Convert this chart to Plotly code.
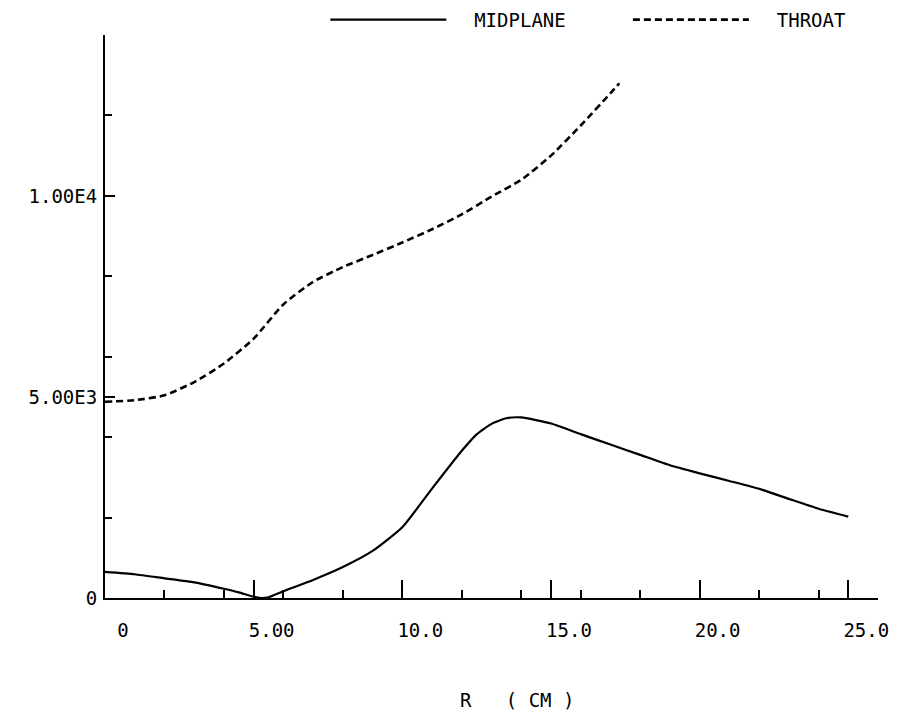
import plotly.graph_objects as go

# Radius (cm) and profile values along the two planes
r_throat = [0, 1, 2, 3, 4, 5, 6, 7, 8, 9, 10, 11, 12, 13, 14, 15, 16, 17, 17.3]
v_throat = [4880, 4920, 5040, 5370, 5830, 6450, 7300, 7860, 8230, 8530, 8840,
            9170, 9540, 9980, 10400, 11000, 11750, 12550, 12800]

r_mid = [0, 1, 2, 3, 4, 4.5, 5, 5.25, 5.5, 6, 7, 8, 9, 10, 11, 12, 12.5, 13,
         13.5, 14, 15, 16, 17, 18, 19, 20, 21, 22, 23, 24, 25]
v_mid = [650, 590, 490, 390, 230, 140, 30, 0, 20, 170, 450, 770, 1170, 1760,
         2720, 3660, 4070, 4330, 4470, 4490, 4340, 4075, 3815, 3560, 3300,
         3100, 2910, 2715, 2465, 2220, 2025]

x_major = [0, 5, 10, 15, 20, 25]
x_labels = ["0", "5.00", "10.0", "15.0", "20.0", "25.0"]
y_major = [0, 5000, 10000]
y_labels = ["0", "5.00E3", "1.00E4"]

FONT = "DejaVu Sans Mono"
FS = 19
NB = "\u00a0"

fig = go.Figure()
fig.add_trace(go.Scatter(x=r_mid, y=v_mid, mode="lines", name=NB * 2 + "MIDPLANE" + NB * 5,
                         line=dict(color="black", width=2.2, shape="spline", smoothing=0.5)))
fig.add_trace(go.Scatter(x=r_throat, y=v_throat, mode="lines", name=NB * 2 + "THROAT",
                         line=dict(color="black", width=2.6, dash="7px,4px",
                                   shape="spline", smoothing=0.6)))

fig.update_layout(
    width=901, height=716,
    margin=dict(l=105, r=23, t=35, b=118, autoexpand=False),
    paper_bgcolor="white", plot_bgcolor="white",
    font=dict(family=FONT, size=FS, color="black"),
    showlegend=True,
    legend=dict(orientation="h", x=0.285, xanchor="left", y=1.027, yanchor="middle",
                itemwidth=116,
                font=dict(family=FONT, size=FS, color="black"),
                bgcolor="rgba(0,0,0,0)", itemclick=False),
    xaxis=dict(range=[0, 26], showgrid=False, zeroline=False,
               showline=True, linecolor="black", linewidth=2,
               tickmode="array", tickvals=x_major, ticktext=x_labels,
               ticks="inside", ticklen=18, tickwidth=2, tickcolor="black",
               ticklabelstandoff=14, ticklabelshift=18,
               minor=dict(tickmode="array", tickvals=list(range(0, 27, 2)),
                          ticks="inside", ticklen=8, tickwidth=2, tickcolor="black")),
    yaxis=dict(range=[0, 14000], showgrid=False, zeroline=False,
               showline=True, linecolor="black", linewidth=2,
               tickmode="array", tickvals=y_major, ticktext=y_labels,
               ticks="inside", ticklen=10, tickwidth=2, tickcolor="black",
               ticklabelstandoff=2,
               minor=dict(tickmode="array", tickvals=list(range(0, 14001, 2000)),
                          ticks="inside", ticklen=7, tickwidth=2, tickcolor="black")),
    annotations=[dict(text="R" + NB * 3 + "(" + NB + "CM" + NB + ")", xref="paper", yref="paper",
                      x=0.533, y=-0.181, showarrow=False, xanchor="center",
                      yanchor="middle", font=dict(family=FONT, size=FS, color="black"))],
)

fig.write_html("out.html")
